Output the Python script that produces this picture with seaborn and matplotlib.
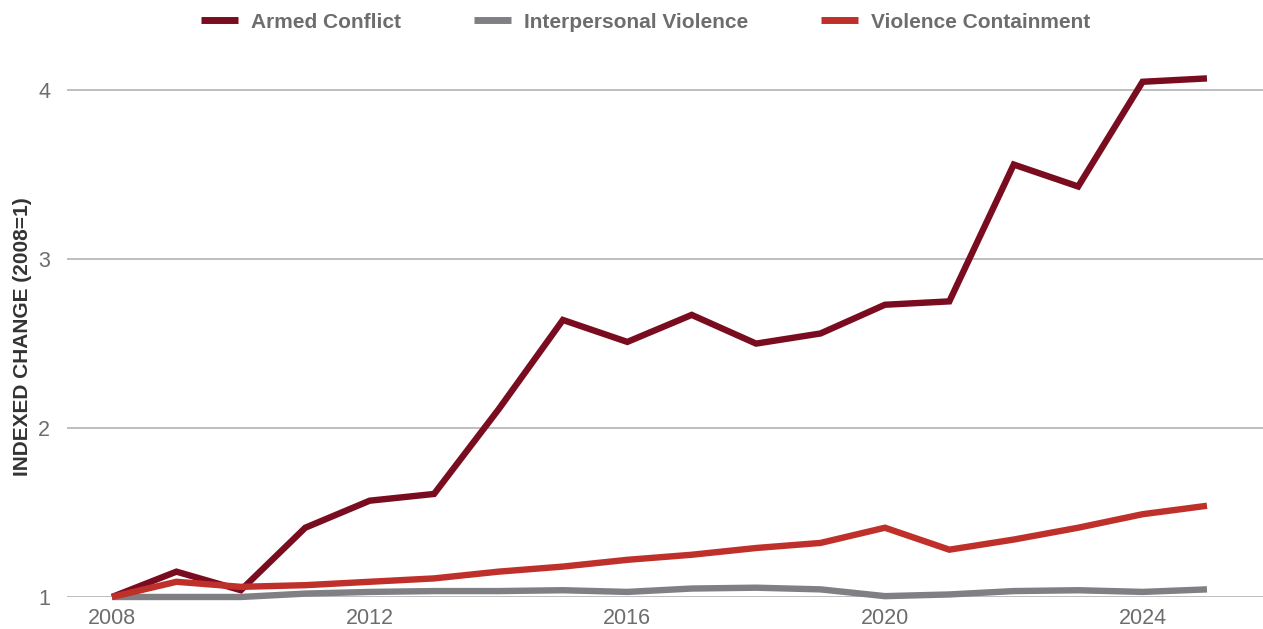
import numpy as np
import pandas as pd
import seaborn as sns
import matplotlib.pyplot as plt

years = list(range(2008, 2026))
armed_conflict = [1.00, 1.15, 1.04, 1.41, 1.57, 1.61, 2.11, 2.64, 2.51, 2.67,
                  2.50, 2.56, 2.73, 2.75, 3.56, 3.43, 4.05, 4.07]
interpersonal = [1.00, 1.00, 1.00, 1.02, 1.03, 1.035, 1.035, 1.04, 1.03, 1.05,
                 1.055, 1.045, 1.005, 1.015, 1.035, 1.04, 1.03, 1.045]
containment = [1.00, 1.09, 1.06, 1.07, 1.09, 1.11, 1.15, 1.18, 1.22, 1.25,
               1.29, 1.32, 1.41, 1.28, 1.34, 1.41, 1.49, 1.54]
series_names = ["Armed Conflict", "Interpersonal Violence", "Violence Containment"]
colors = ["#7a0c20", "#7f7f84", "#c0302a"]

df = pd.DataFrame({
    "year": years * 3,
    "value": armed_conflict + interpersonal + containment,
    "series": [series_names[0]] * len(years) + [series_names[1]] * len(years)
              + [series_names[2]] * len(years),
})

sns.set_style("white")
plt.rcParams['font.family'] = ['Liberation Sans', 'DejaVu Sans']

fig = plt.figure(figsize=(12.63, 6.29), dpi=100)
ax = fig.add_axes([0.053, 0.0509, 0.947, 0.854])

sns.lineplot(data=df, x="year", y="value", hue="series", hue_order=series_names,
             palette=dict(zip(series_names, colors)), linewidth=4.6, ax=ax,
             legend=True)
for ln in ax.lines:
    ln.set_clip_on(False)
    ln.set_solid_joinstyle("miter")
    ln.set_solid_capstyle("butt")

ax.set_xlim(2007.3, 2025.87)
ax.set_ylim(1, 4.18)
ax.set_xticks([2008, 2012, 2016, 2020, 2024])
ax.set_yticks([1, 2, 3, 4])
ax.yaxis.grid(True, color="#b3b3b3", linewidth=1.2)
ax.xaxis.grid(False)
for s in ax.spines.values():
    s.set_visible(False)
ax.tick_params(axis="both", length=0, labelsize=15.5, labelcolor="#6d6d6d")
ax.tick_params(axis="x", pad=8)
ax.tick_params(axis="y", pad=12)
ax.set_xlabel("")
ax.set_ylabel("INDEXED CHANGE (2008=1)", fontsize=15, fontweight="bold",
              color="#333333")
ax.yaxis.set_label_coords(-0.029, 0.485)

leg = ax.legend(loc="center", bbox_to_anchor=(0.484, 1.07), ncol=3,
                frameon=False, fontsize=15, handlelength=1.75, columnspacing=3.5,
                handletextpad=0.65)
for t in leg.get_texts():
    t.set_color("#6d6d6d")
    t.set_fontweight("bold")
for h in leg.get_lines():
    h.set_linewidth(5)
    h.set_solid_capstyle("butt")

fig.savefig("out.png", dpi=100)
